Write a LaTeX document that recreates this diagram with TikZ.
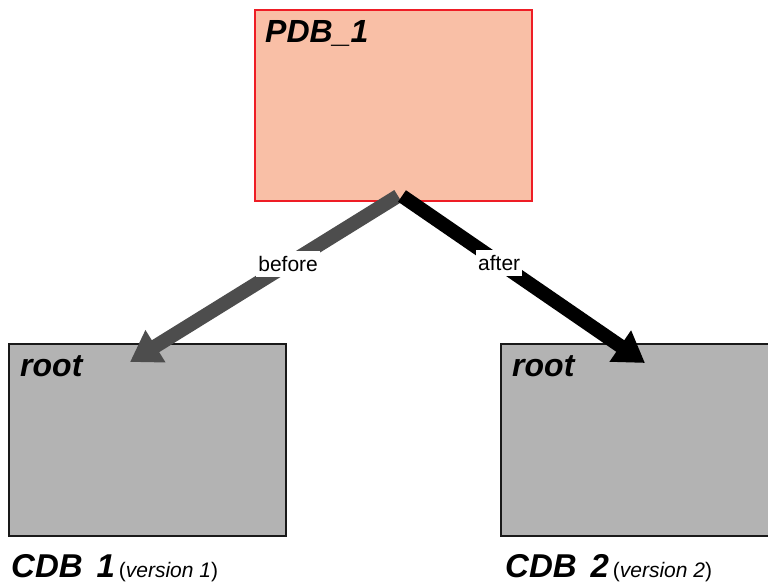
\documentclass[tikz,border=0pt]{standalone}
\usepackage{fontspec}
\setmainfont{Liberation Sans}
\usetikzlibrary{arrows.meta}
\definecolor{pdbfill}{HTML}{F9BFA6}
\definecolor{pdbdraw}{HTML}{EE1D25}
\definecolor{rootfill}{HTML}{B3B3B3}
\definecolor{arrgray}{HTML}{4D4D4D}
\tikzset{
  pdbbox/.style={draw=pdbdraw, fill=pdbfill, line width=2pt, minimum width=277pt, minimum height=191pt, inner sep=0pt},
  rootbox/.style={draw=black!90, fill=rootfill, line width=2pt, minimum width=277pt, minimum height=192pt, inner sep=0pt},
  title/.style={anchor=base west, inner sep=0pt, font=\fontsize{32}{36}\selectfont\bfseries\itshape},
  cdb/.style={anchor=base west, inner sep=0pt, font=\fontsize{33}{38}\selectfont\bfseries\itshape},
  lbl/.style={fill=white, inner xsep=2pt, inner ysep=5pt, font=\fontsize{21}{25}\selectfont},
  bigarrow/.style={line width=14pt, -{Triangle[length=30pt,width=36pt]}}
}
\newcommand{\versiontext}[1]{{\mdseries\upshape\fontsize{21}{25}\selectfont(\textit{version #1})}}
\begin{document}
\begin{tikzpicture}[x=1pt,y=-1pt]
\useasboundingbox (0,0) rectangle (768,586);
\node[pdbbox] (pdb) at (393.5,105.5) {};
\node[rootbox] (cdba) at (147.5,440) {};
\node[rootbox] (cdbb) at (639.5,440) {};
\node[title] (pdbt) at (265,43) {PDB\_1};
\node[title] (roota) at (20,376) {root};
\node[title] (rootb) at (512,376) {root};
\coordinate (bstart) at (398,196);
\coordinate (btip) at (130,362);
\coordinate (astart) at (402,196);
\coordinate (atip) at (645,363);
\draw[bigarrow, draw=arrgray, fill=arrgray] (bstart) -- node[lbl, pos=0.41] (blbl) {before} (btip);
\draw[bigarrow, draw=black, fill=black] (astart) -- node[lbl, pos=0.40] (albl) {after} (atip);
\node[cdb] (cdbal) at (11,577) {CDB\hspace{0.42em}1\hspace{0.12em}\versiontext{1}};
\node[cdb] (cdbbl) at (505,577) {CDB\hspace{0.42em}2\hspace{0.12em}\versiontext{2}};
\end{tikzpicture}
\end{document}
